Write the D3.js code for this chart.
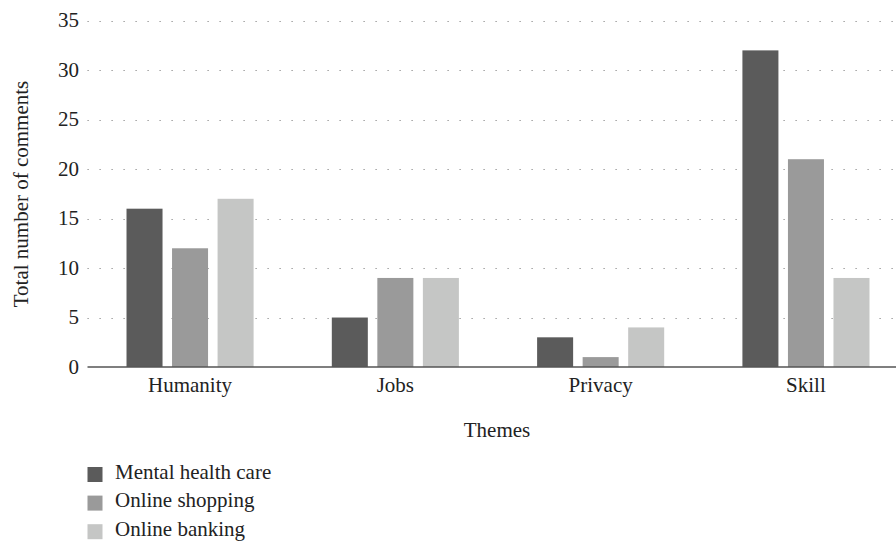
<!DOCTYPE html>
<html><head><meta charset="utf-8">
<script src="https://cdn.jsdelivr.net/npm/d3@7"></script>
<style>body{margin:0;background:#fff}svg{display:block}text{font-family:"Liberation Serif","DejaVu Serif",serif;fill:#222}</style>
</head><body><svg id="c" width="896" height="541"></svg>
<script>
const categories = ["Humanity","Jobs","Privacy","Skill"];
const seriesNames = ["Mental health care","Online shopping","Online banking"];
const mentalHealth = [16,5,3,32];
const onlineShopping = [12,9,1,21];
const onlineBanking = [17,9,4,9];
const yTicks = [0,5,10,15,20,25,30,35];
const colors = ["#5b5b5b","#9a9a9a","#c5c6c5"];

(function(){
const seriesValues = [mentalHealth, onlineShopping, onlineBanking];
const svg = d3.select("#c");
const fs = 21;
const left = 87.5, axisRight = 896, bandRight = 908.5, plotTop = 20.7, plotBottom = 367;

const y = d3.scaleLinear().domain([0,35]).range([plotBottom, plotTop]);
const x0 = d3.scaleBand().domain(categories).range([left, bandRight]).paddingInner(0.381).paddingOuter(0.19);
const x1 = d3.scaleBand().domain(seriesNames).range([0, x0.bandwidth()]).paddingInner(0.209);

svg.append("g").selectAll("line").data(yTicks.filter(d=>d>0)).join("line")
  .attr("x1", left).attr("x2", axisRight)
  .attr("y1", d=>Math.round(y(d))+0.5).attr("y2", d=>Math.round(y(d))+0.5)
  .attr("stroke","#888").attr("stroke-width",1).attr("stroke-dasharray","1.2,10.8");

svg.append("g").selectAll("text").data(yTicks).join("text")
  .attr("x", 79).attr("y", d=>y(d)+6.5).attr("text-anchor","end")
  .style("font-size", fs+"px").text(d=>d);

const g = svg.append("g").selectAll("g").data(categories).join("g")
  .attr("transform", d=>`translate(${x0(d)},0)`);
g.selectAll("rect").data((c,i)=>seriesNames.map((s,j)=>({s, v:seriesValues[j][i], j}))).join("rect")
  .attr("x", d=>x1(d.s)).attr("width", x1.bandwidth())
  .attr("y", d=>y(d.v)).attr("height", d=>plotBottom - y(d.v))
  .attr("fill", d=>colors[d.j]);

svg.append("line").attr("x1", left).attr("x2", axisRight).attr("y1", plotBottom).attr("y2", plotBottom)
  .attr("stroke","#555").attr("stroke-width",1.6);

svg.append("g").selectAll("text").data(categories).join("text")
  .attr("x", d=>x0(d)+x0.bandwidth()/2).attr("y", 392).attr("text-anchor","middle")
  .style("font-size", fs+"px").text(d=>d);

svg.append("text").attr("x", 497).attr("y", 437).attr("text-anchor","middle").style("font-size", fs+"px").text("Themes");
svg.append("text").attr("transform","translate(27.5,194) rotate(-90)").attr("text-anchor","middle").style("font-size", fs+"px").text("Total number of comments");

const lg = svg.append("g").selectAll("g").data(seriesNames).join("g")
  .attr("transform", (d,i)=>`translate(87.5,${467 + i*28.6})`);
lg.append("rect").attr("width",15).attr("height",15).attr("fill",(d,i)=>colors[i]);
lg.append("text").attr("x",27.5).attr("y",11.5).style("font-size", fs+"px").text(d=>d);
})();
</script></body></html>
